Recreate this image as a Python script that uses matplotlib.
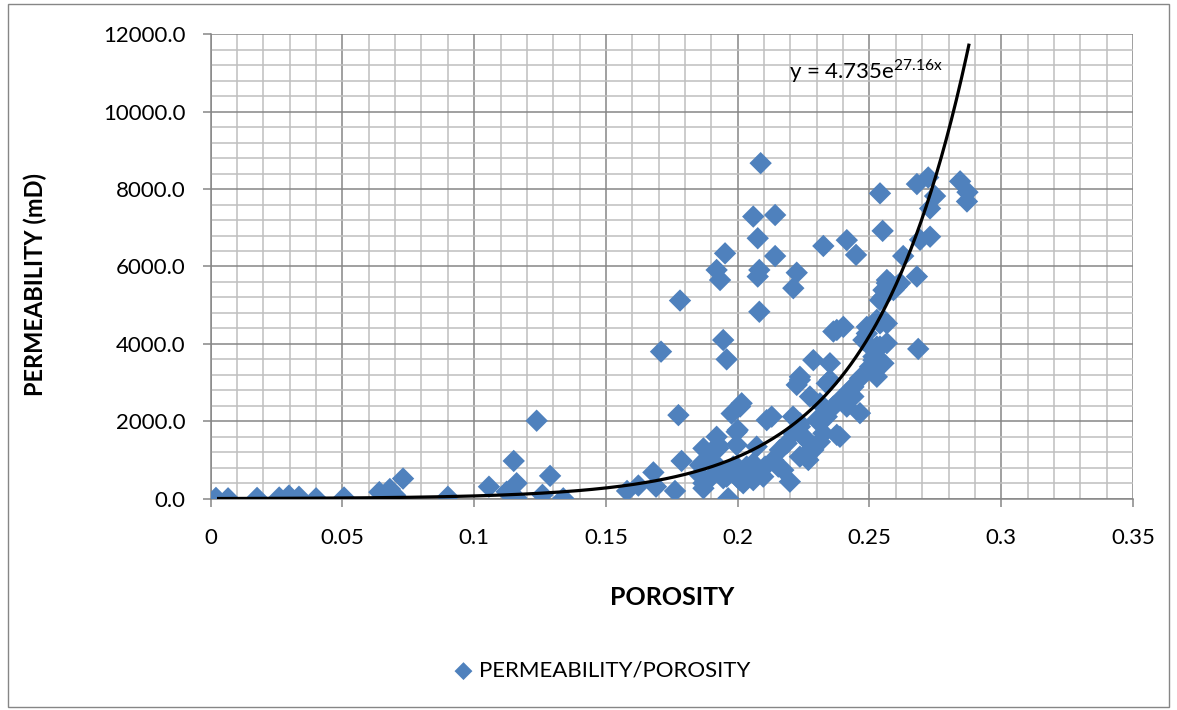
import numpy as np
import matplotlib
matplotlib.use("Agg")
import matplotlib.pyplot as plt
from matplotlib.patches import Rectangle
from matplotlib.ticker import MultipleLocator

plt.rcParams['font.family'] = ['Lato', 'DejaVu Sans']
plt.rcParams['mathtext.fontset'] = 'custom'
plt.rcParams['mathtext.rm'] = 'Lato'

# core plug measurements
porosity = [
    0.002, 0.0066, 0.0176, 0.026, 0.0297, 0.0335, 0.040, 0.0506, 0.064, 0.066,
    0.068, 0.070, 0.073, 0.090, 0.1056, 0.1123, 0.115, 0.1161, 0.116, 0.1237,
    0.1259, 0.1288, 0.1338, 0.158, 0.1623, 0.168, 0.169, 0.1709, 0.1762, 0.1775,
    0.1781, 0.1787, 0.1857, 0.1857, 0.187, 0.187, 0.187, 0.1895, 0.1895, 0.192,
    0.1926, 0.1926, 0.192, 0.1933, 0.1952, 0.1945, 0.1958, 0.1964, 0.1958, 0.1933,
    0.1945, 0.1977, 0.1996, 0.2015, 0.2009, 0.1996, 0.1983, 0.1996, 0.200, 0.2009,
    0.2009, 0.2021, 0.2034, 0.2034, 0.2059, 0.2059, 0.2059, 0.2072, 0.2059, 0.2087,
    0.2076, 0.2082, 0.2076, 0.2082, 0.2097, 0.2104, 0.211, 0.2129, 0.2135, 0.2142,
    0.2142, 0.2154, 0.216, 0.2173, 0.2186, 0.2198, 0.2211, 0.2211, 0.2224, 0.2224,
    0.2236, 0.2236, 0.221, 0.2236, 0.2236, 0.2236, 0.2249, 0.2262, 0.2262, 0.2268,
    0.2274, 0.2287, 0.2287, 0.2287, 0.230, 0.2312, 0.2312, 0.2325, 0.2325, 0.2338,
    0.2338, 0.235, 0.235, 0.2363, 0.2363, 0.2376, 0.2376, 0.2388, 0.2388, 0.2401,
    0.2414, 0.2414, 0.2426, 0.2439, 0.2439, 0.2449, 0.2464, 0.2464, 0.2477, 0.249,
    0.249, 0.249, 0.2502, 0.2515, 0.2515, 0.2528, 0.2528, 0.2528, 0.2528, 0.254,
    0.254, 0.254, 0.254, 0.255, 0.2553, 0.2553, 0.2553, 0.2553, 0.2566, 0.2566,
    0.2566, 0.2566, 0.2578, 0.2591, 0.2603, 0.2616, 0.2628, 0.268, 0.2685, 0.268,
    0.2692, 0.2723, 0.273, 0.273, 0.2749, 0.2844, 0.2872, 0.287,
]
permeability = [
    20, 10, 20, 30, 80, 50, 10, 30, 170, 60,
    250, 90, 520, 50, 310, 180, 975, 400, 20, 2015,
    100, 590, 10, 200, 340, 680, 310, 3800, 200, 2160,
    5120, 975, 610, 870, 270, 1300, 400, 1000, 530, 1600,
    1390, 1300, 5910, 5650, 6340, 4100, 3600, 10, 570, 785,
    530, 2200, 1730, 2465, 2380, 830, 830, 1390, 1775, 480,
    570, 400, 655, 830, 915, 740, 480, 1345, 7290, 8670,
    6730, 5910, 5740, 4830, 570, 830, 2030, 2120, 1000, 7330,
    6270, 830, 1260, 740, 1430, 440, 1690, 5440, 5840, 2940,
    3150, 3070, 2120, 1950, 1860, 1085, 1600, 1520, 1170, 1000,
    2640, 3580, 1260, 1345, 2030, 1470, 2465, 1690, 6530, 2980,
    2120, 3500, 3070, 2380, 4320, 4360, 1650, 1600, 2550, 4440,
    2380, 6680, 2810, 2640, 2890, 6300, 2210, 3110, 4100, 4270,
    4440, 4020, 3410, 3670, 3580, 3150, 3500, 4620, 3930, 7890,
    5130, 3930, 4530, 6920, 5220, 5390, 4620, 3500, 4020, 5570,
    4530, 5650, 5570, 5390, 5480, 5570, 6270, 5740, 3870, 8130,
    6690, 8300, 6770, 7500, 7820, 8200, 7920, 7680,
]

# exponential fit y = a * exp(b * x)
fit_a = 4.735
fit_b = 27.16
fit_range = [0.003, 0.2877]

x_ticks = [0, 0.05, 0.1, 0.15, 0.2, 0.25, 0.3, 0.35]
x_tick_labels = ['0', '0.05', '0.1', '0.15', '0.2', '0.25', '0.3', '0.35']
y_ticks = [0, 2000, 4000, 6000, 8000, 10000, 12000]

blue = '#4F81BD'

fig = plt.figure(figsize=(11.77, 7.1), dpi=100)
ax = fig.add_axes([0.179, 0.2976, 0.7836, 0.6541])

ax.set_xlim(0, 0.35)
ax.set_ylim(0, 12000)
ax.set_xticks(x_ticks)
ax.set_xticklabels(x_tick_labels)
ax.set_yticks(y_ticks)
ax.set_yticklabels([f'{v:.1f}' for v in y_ticks])
ax.xaxis.set_minor_locator(MultipleLocator(0.01))
ax.yaxis.set_minor_locator(MultipleLocator(400))

ax.grid(which='minor', color='#BFBFBF', linewidth=1.1)
ax.grid(which='major', color='#868686', linewidth=1.1)
ax.set_axisbelow(True)

for side in ['top', 'right']:
    ax.spines[side].set_visible(False)
for side in ['left', 'bottom']:
    ax.spines[side].set_color('#868686')
    ax.spines[side].set_linewidth(1.1)

ax.tick_params(axis='both', which='major', direction='out', length=6,
               color='#868686', width=1.1, labelsize=16)
ax.tick_params(axis='y', which='major', pad=12)
ax.tick_params(axis='x', which='major', pad=15)
ax.tick_params(axis='both', which='minor', length=0)

ax.scatter(porosity, permeability, marker='D', s=130, color=blue,
           edgecolors='none', zorder=3, label='PERMEABILITY/POROSITY')

xf = np.linspace(fit_range[0], fit_range[1], 300)
ax.plot(xf, fit_a * np.exp(fit_b * xf), color='black', linewidth=2.3, zorder=4)

ax.text(0.2193, 10850, r'y = 4.735e$^{\mathrm{27.16x}}$', fontsize=16)

fig.text(0.030, 0.600, 'PERMEABILITY (mD)', rotation=90, fontsize=17,
         fontweight='bold', ha='center', va='center')
fig.text(0.571, 0.158, 'POROSITY', fontsize=18, fontweight='bold',
         ha='center', va='center')

fig.legend(loc='center', bbox_to_anchor=(0.51, 0.055), frameon=False,
           fontsize=16, handletextpad=0.1, handlelength=1.2, markerscale=0.8)

# outer chart frame
fig.patches.append(Rectangle((0.007, 0.004), 0.986, 0.99, transform=fig.transFigure,
                             fill=False, edgecolor='#868686', linewidth=1.0))

fig.savefig('out.png', dpi=100)
